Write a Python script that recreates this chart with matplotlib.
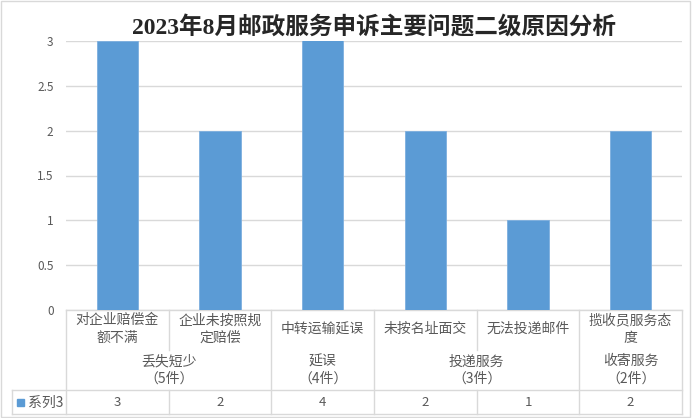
import matplotlib.pyplot as plt
from matplotlib.patches import Rectangle

plt.rcParams['font.family'] = ['Noto Sans CJK SC', 'DejaVu Sans']

# data
title = '2023年8月邮政服务申诉主要问题二级原因分析'
categories = ['对企业赔偿金\n额不满', '企业未按照规\n定赔偿', '中转运输延误',
              '未按名址面交', '无法投递邮件', '揽收员服务态\n度']
groups = ['丢失短少\n（5件）', '延误\n（4件）', '投递服务\n（3件）', '收寄服务\n（2件）']
group_spans = [(0, 1), (2, 2), (3, 4), (5, 5)]
series_name = '系列3'
values = [3, 2, 4, 2, 1, 2]
yticks = [0, 0.5, 1, 1.5, 2, 2.5, 3]
ytick_labels = ['0', '0.5', '1', '1.5', '2', '2.5', '3']

W, H = 700, 418
bar_color = '#5B9BD5'
grid_color = '#D9D9D9'
text_color = '#595959'

fig = plt.figure(figsize=(W / 100, H / 100), dpi=100)

# plot area in pixels
left, right, top, bottom = 66, 682, 41, 310
ax = fig.add_axes([left / W, 1 - bottom / H, (right - left) / W, (bottom - top) / H])

x = list(range(len(categories)))
ax.bar(x, values, width=0.4, color=bar_color, edgecolor='#7DAFDF', linewidth=0.6, zorder=3)
ax.set_xlim(-0.5, len(categories) - 0.5)
ax.set_ylim(0, 3)
ax.set_yticks(yticks)
ax.set_yticklabels(ytick_labels, fontsize=8.5, color=text_color)
ax.set_xticks([])
ax.tick_params(axis='y', length=0, pad=9)
ax.grid(axis='y', color=grid_color, linewidth=1, zorder=0)
for s in ax.spines.values():
    s.set_visible(False)

ax.set_title(title, family=['Liberation Serif', 'Noto Sans CJK SC'], fontweight='bold',
             fontsize=17, color='#262626', pad=5)


# helpers: y in pixels from top of figure -> axes fraction
def yf(py):
    return (bottom - py) / (bottom - top)


tr = ax.get_xaxis_transform()
line_kw = dict(color=grid_color, linewidth=1, clip_on=False, transform=tr)

row_top, row_bot = 390, 414
table_left_px = 12
xl = -0.5 - (left - table_left_px) / ((right - left) / len(categories))

# horizontal lines
ax.plot([-0.5, len(categories) - 0.5], [yf(bottom), yf(bottom)], **line_kw)
ax.plot([xl, len(categories) - 0.5], [yf(row_top), yf(row_top)], **line_kw)
ax.plot([xl, len(categories) - 0.5], [yf(row_bot), yf(row_bot)], **line_kw)
ax.plot([xl, xl], [yf(row_top), yf(row_bot)], **line_kw)

# vertical lines
group_edges = set([-0.5] + [b + 0.5 for a, b in group_spans])
for i in range(len(categories) + 1):
    xb = i - 0.5
    if xb in group_edges:
        ax.plot([xb, xb], [yf(bottom), yf(row_bot)], **line_kw)
    else:
        ax.plot([xb, xb], [yf(bottom), yf(350)], **line_kw)
        ax.plot([xb, xb], [yf(row_top), yf(row_bot)], **line_kw)

# category labels
for i, c in enumerate(categories):
    ax.text(i, yf(329), c, transform=tr, ha='center', va='center', fontsize=10,
            color=text_color, linespacing=1.3)

# group labels
for g, (a, b) in zip(groups, group_spans):
    ax.text((a + b) / 2, yf(370), g, transform=tr, ha='center', va='center', fontsize=10,
            color=text_color, linespacing=1.3)

# data table row
for i, v in enumerate(values):
    ax.text(i, yf(403), str(v), transform=tr, ha='center', va='center', fontsize=9.5,
            color=text_color)
ax.text(xl + 0.16, yf(403), series_name, transform=tr, ha='left', va='center',
        fontsize=10, color=text_color)
ax.add_patch(Rectangle((xl + 0.05, yf(406)), 0.065, yf(399) - yf(406), transform=tr,
                       color=bar_color, clip_on=False))

# outer border
fig.patches.append(Rectangle((1 / W, 1 - 417 / H), 689 / W, 416 / H, transform=fig.transFigure,
                             fill=False, edgecolor=grid_color, linewidth=1))

fig.savefig('out.png', dpi=100)
